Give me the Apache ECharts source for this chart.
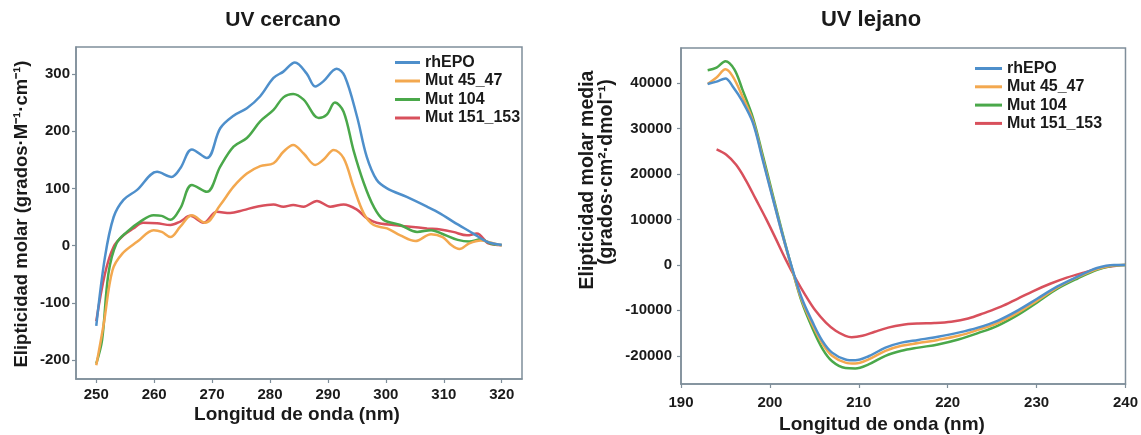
<!DOCTYPE html>
<html><head><meta charset="utf-8">
<script src="https://cdn.jsdelivr.net/npm/echarts@6/dist/echarts.min.js"></script>
<style>html,body{margin:0;padding:0;background:#fff}#c{width:1141px;height:435px}</style>
</head><body><div id="c"></div>
<script>
// ---------- data ----------
const seriesNames = ['rhEPO', 'Mut 45_47', 'Mut 104', 'Mut 151_153'];
const seriesColors = ['#4e8fcb', '#f3a84f', '#4aa84a', '#d8505c'];

// UV cercano (near UV)
const nearX_rhEPO = [250, 251.5, 253, 254.7, 257, 260.5, 263, 264.5, 266.5, 269.1, 271.4, 273.7, 276, 278.3, 280.6, 282.3, 284.3, 286.3, 287.8, 289.2, 291.5, 292.9, 295, 296.7, 298.4, 300.2, 303.6, 307.1, 309.4, 311.6, 315.1, 317.4, 320];
const nearY_rhEPO = [-140, -20, 50, 80, 97, 129, 120, 135, 168, 153, 205, 227, 240, 261, 293, 304, 320, 301, 278, 287, 309, 296, 226, 155, 115, 100, 85, 68, 56, 42, 21, 7, 1];
const nearX_mut4547 = [250, 251.3, 252.8, 254.5, 257.1, 259.9, 261.3, 262.8, 264.5, 266.5, 268.8, 271.4, 273.7, 276, 278.3, 280.6, 282.3, 284, 285.8, 287.8, 289.2, 291, 292.7, 294.4, 296.2, 297.9, 300.2, 302.5, 305.1, 307.8, 309.8, 311.3, 312.7, 314.4, 316.4, 318.2, 320];
const nearY_mut4547 = [-209, -136, -43, -14, 7, 27, 24, 15, 33, 53, 40, 71, 103, 126, 139, 144, 164, 176, 161, 141, 150, 167, 153, 103, 56, 36, 30, 18, 8, 20, 15, 1, -6, 4, 9, 5, 0];
const nearX_mut104 = [250, 251, 252.1, 253.5, 255.3, 257.6, 259.9, 261.3, 262.8, 264.5, 266.5, 269.1, 271.4, 273.7, 276, 278.3, 280.6, 282.3, 284, 285.8, 288.4, 289.8, 291.2, 292.7, 294.4, 296.2, 297.9, 299.6, 302.5, 305.4, 307.8, 310.1, 312.4, 314.4, 316.4, 318.2, 320];
const nearY_mut104 = [-206, -165, -49, 4, 24, 42, 53, 52, 45, 65, 106, 94, 138, 173, 188, 217, 237, 259, 265, 255, 223, 229, 250, 234, 167, 109, 68, 45, 36, 24, 27, 19, 10, 7, 11, 3, 1];
const nearX_mut151 = [250, 251.5, 253, 254.7, 256.4, 258.1, 260.5, 262.8, 264.5, 266.2, 268.5, 270.8, 273.1, 275.4, 277.7, 280.6, 282.3, 284, 285.8, 288.1, 290.4, 292.7, 295, 296.7, 298.4, 301.3, 304.2, 307.1, 309.4, 311.6, 314, 315.7, 317.7, 320];
const nearY_mut151 = [-132, -49, -2, 18, 30, 40, 39, 36, 42, 52, 40, 59, 57, 62, 68, 72, 68, 71, 68, 78, 68, 72, 63, 48, 40, 36, 33, 30, 28, 24, 18, 21, 4, 1];

// UV lejano (far UV)
const farX_rhEPO = [193, 194, 195, 195.8, 196.9, 198.1, 199.2, 200.3, 201.4, 202.5, 203.6, 204.8, 205.9, 207, 208.5, 209.6, 211.1, 213, 214.8, 216.7, 218.9, 221.2, 223.4, 225.6, 227.9, 230.1, 232.3, 234.6, 236.8, 238.7, 240];
const farY_rhEPO = [39800, 40300, 41000, 39300, 36000, 31200, 23000, 14800, 6700, -700, -7400, -12600, -16700, -19300, -20800, -21000, -20100, -18200, -17100, -16500, -15800, -14900, -13800, -12300, -10000, -7400, -4800, -2600, -700, 0, 0];
const farX_mut4547 = [193, 194, 195, 195.8, 196.9, 198.1, 199.2, 200.3, 201.4, 202.5, 203.6, 204.8, 205.9, 207, 208.5, 209.6, 211.1, 213, 214.8, 216.7, 218.9, 221.2, 223.4, 225.6, 227.9, 230.1, 232.3, 234.6, 236.8, 238.7, 240];
const farY_mut4547 = [39800, 41200, 43000, 41500, 37100, 31600, 23400, 15000, 6700, -1000, -7800, -13200, -17300, -20000, -21500, -21700, -20800, -18900, -17800, -17200, -16500, -15600, -14300, -12800, -10500, -7800, -5000, -2700, -900, -100, 0];
const farX_mut104 = [193, 194, 195, 196, 196.9, 198.1, 199.2, 200.3, 201.4, 202.5, 203.6, 204.8, 205.9, 207, 208.5, 209.6, 211.1, 213, 214.8, 216.7, 218.9, 221.2, 223.4, 225.6, 227.9, 230.1, 232.3, 234.6, 236.8, 238.7, 240];
const farY_mut104 = [42800, 43400, 44800, 43000, 38600, 32300, 24100, 15600, 7100, -900, -8200, -14000, -18400, -21200, -22700, -22800, -21900, -20000, -18900, -18200, -17500, -16400, -15000, -13400, -11000, -8200, -5300, -3000, -1100, -150, 0];
const farX_mut151 = [194, 195.1, 196.2, 197.3, 198.4, 199.6, 200.7, 201.8, 202.9, 204, 205.1, 206.3, 207.4, 208.5, 209.2, 210.4, 211.8, 213.3, 214.8, 216.7, 218.5, 220.4, 222.3, 224.1, 226, 227.9, 229.7, 231.6, 233.4, 235.3, 237.2, 239.1, 240];
const farY_mut151 = [25400, 24200, 22000, 18600, 14500, 10000, 5600, 1100, -3000, -6700, -10000, -12700, -14500, -15600, -15900, -15600, -14700, -13800, -13200, -12900, -12800, -12500, -11800, -10600, -9200, -7400, -5700, -4100, -2800, -1700, -700, -150, 0];

// tick labels
const nearXTicks = [250, 260, 270, 280, 290, 300, 310, 320];
const nearYTicks = [-200, -100, 0, 100, 200, 300];
const farXTicks = [190, 200, 210, 220, 230, 240];
const farYTicks = [-20000, -10000, 0, 10000, 20000, 30000, 40000];

// ---------- chart ----------
const zip = (xs, ys) => xs.map((x, i) => [x, ys[i]]);
const nearData = [zip(nearX_rhEPO, nearY_rhEPO), zip(nearX_mut4547, nearY_mut4547), zip(nearX_mut104, nearY_mut104), zip(nearX_mut151, nearY_mut151)];
const farData = [zip(farX_rhEPO, farY_rhEPO), zip(farX_mut4547, farY_mut4547), zip(farX_mut104, farY_mut104), zip(farX_mut151, farY_mut151)];

const FONT = "'Liberation Sans', Arial, sans-serif";
const AX = '#7f8e9a';
const lbl = { fontFamily: FONT, fontWeight: 'bold', fontSize: 15, color: '#1a1a1a' };

function axis(min, max, ticks, margin) {
  return {
    type: 'value', min: min, max: max,
    axisLine: { show: true, onZero: false, lineStyle: { color: AX, width: 1.5 } },
    axisTick: { show: true, length: 4, lineStyle: { color: AX, width: 1.2 }, customValues: ticks },
    axisLabel: Object.assign({ margin: margin, customValues: ticks, formatter: v => String(v) }, lbl),
    splitLine: { show: false }
  };
}

const series = [];
seriesNames.forEach((n, i) => {
  series.push({ name: n, type: 'line', xAxisIndex: 0, yAxisIndex: 0, data: nearData[i], showSymbol: false, smooth: 0.35,
    lineStyle: { width: 2.5, color: seriesColors[i] }, itemStyle: { color: seriesColors[i] }, z: 10 - i });
});
seriesNames.forEach((n, i) => {
  series.push({ name: n, type: 'line', xAxisIndex: 1, yAxisIndex: 1, data: farData[i], showSymbol: false, smooth: 0.35,
    lineStyle: { width: 2.5, color: seriesColors[i] }, itemStyle: { color: seriesColors[i] }, z: 10 - i });
});

const legendCommon = { orient: 'vertical', icon: 'rect', itemHeight: 3, padding: 0, data: seriesNames,
  textStyle: { fontFamily: FONT, fontWeight: 'bold', fontSize: 16, color: '#1a1a1a', lineHeight: 17 } };

const txt = (text, x, y, size, rot) => ({
  type: 'text', x: x, y: y, rotation: rot ? Math.PI / 2 : 0,
  style: { text: text, align: 'center', verticalAlign: 'middle', fontFamily: FONT, fontWeight: 'bold', fontSize: size, fill: '#1a1a1a' }
});

const chart = echarts.init(document.getElementById('c'), null, { renderer: 'canvas' });
chart.setOption({
  backgroundColor: '#ffffff',
  animation: false,
  legend: [
    Object.assign({ left: 395, top: 54, itemWidth: 25, itemGap: 1.5 }, legendCommon),
    Object.assign({ left: 975, top: 60, itemWidth: 27, itemGap: 1.3 }, legendCommon)
  ],
  grid: [
    { left: 76, top: 47, width: 446, height: 332, show: true, borderColor: AX, borderWidth: 1.5, containLabel: false },
    { left: 681, top: 48, width: 448, height: 336, show: true, borderColor: AX, borderWidth: 1.5, containLabel: false }
  ],
  xAxis: [
    Object.assign(axis(246.5, 323.5, nearXTicks, 8), { gridIndex: 0 }),
    Object.assign(axis(190, 240, farXTicks, 11), { gridIndex: 1 })
  ],
  yAxis: [
    Object.assign(axis(-233, 347, nearYTicks, 6), { gridIndex: 0 }),
    Object.assign(axis(-26200, 47700, farYTicks, 9), { gridIndex: 1 })
  ],
  graphic: [
    txt('UV cercano', 283, 20, 21, false),
    txt('UV lejano', 871, 20, 22, false),
    txt('Elipticidad molar (grados·M⁻¹·cm⁻¹)', 22, 214, 18.5, true),
    txt('Elipticidad molar media', 588, 180, 19.5, true),
    txt('(grados·cm²·dmol⁻¹)', 607, 172, 19.5, true),
    txt('Longitud de onda (nm)', 297, 415, 19, false),
    txt('Longitud de onda (nm)', 882, 425, 19, false)
  ],
  series: series
});
</script>
</body></html>
